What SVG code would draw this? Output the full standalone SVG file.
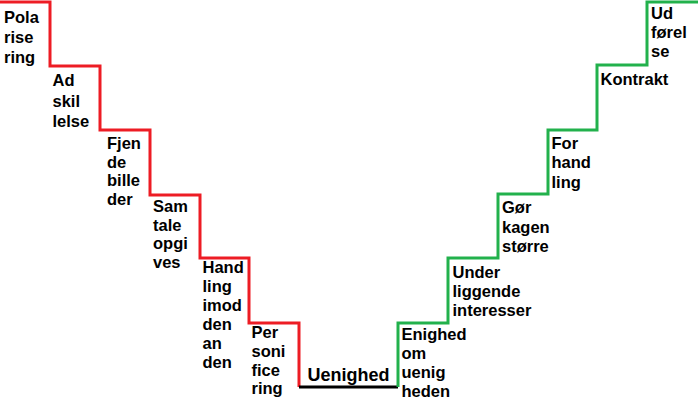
<svg xmlns="http://www.w3.org/2000/svg" width="698" height="400" viewBox="0 0 698 400">
<style>
  .bg { fill: #ffffff; }
  .red { fill: none; stroke: #ED1C24; stroke-width: 3; }
  .green { fill: none; stroke: #22B14C; stroke-width: 3; }
  .black { fill: none; stroke: #000000; stroke-width: 3; }
  .lbl { font-family: "Liberation Sans", Arial, sans-serif; font-weight: bold; font-size: 16.5px; fill: #000000; }
  .big { font-size: 18px; }
</style>
<rect class="bg" x="0" y="0" width="698" height="400"/>
<g id="connectors">
  <path class="red" d="M0,2 H50 V66 H100 V130 H150 V195 H200 V258 H249 V323 H299 V387"/>
  <path class="black" d="M299,387 H398"/>
  <path class="green" d="M398,387 V323 H448 V258 H498 V194 H548 V130 H597 V65 H647 V2 H698"/>
</g>
<g id="polarisering">
  <text class="lbl"><tspan x="4" y="22.7">Pola</tspan><tspan x="4" y="42.7">rise</tspan><tspan x="4" y="63">ring</tspan></text>
</g>
<g id="adskillelse">
  <text class="lbl"><tspan x="52.5" y="86">Ad</tspan><tspan x="52.5" y="106.5">skil</tspan><tspan x="52.5" y="127">lelse</tspan></text>
</g>
<g id="fjendebilleder">
  <text class="lbl"><tspan x="107" y="149">Fjen</tspan><tspan x="107" y="167.5">de</tspan><tspan x="107" y="186.3">bille</tspan><tspan x="107" y="205">der</tspan></text>
</g>
<g id="samtale">
  <text class="lbl"><tspan x="153" y="212.3">Sam</tspan><tspan x="153" y="230.7">tale</tspan><tspan x="153" y="249.3">opgi</tspan><tspan x="153" y="268.3">ves</tspan></text>
</g>
<g id="handling">
  <text class="lbl"><tspan x="202.5" y="273.3">Hand</tspan><tspan x="202.5" y="291.7">ling</tspan><tspan x="202.5" y="311">imod</tspan><tspan x="202.5" y="330">den</tspan><tspan x="202.5" y="349">an</tspan><tspan x="202.5" y="368.3">den</tspan></text>
</g>
<g id="personificering">
  <text class="lbl"><tspan x="251.5" y="338.3">Per</tspan><tspan x="251.5" y="356.7">soni</tspan><tspan x="251.5" y="375.7">fice</tspan><tspan x="251.5" y="394.3">ring</tspan></text>
</g>
<g id="uenighed">
  <text class="lbl big" x="348.5" y="381" text-anchor="middle">Uenighed</text>
</g>
<g id="enighed">
  <text class="lbl"><tspan x="401.5" y="340">Enighed</tspan><tspan x="401.5" y="359">om</tspan><tspan x="401.5" y="378.3">uenig</tspan><tspan x="401.5" y="396.7">heden</tspan></text>
</g>
<g id="underliggende">
  <text class="lbl"><tspan x="452.5" y="277.7">Under</tspan><tspan x="452.5" y="296.7">liggende</tspan><tspan x="452.5" y="315.7">interesser</tspan></text>
</g>
<g id="goerkagen">
  <text class="lbl"><tspan x="502" y="213.3">Gør</tspan><tspan x="502" y="232.7">kagen</tspan><tspan x="502" y="251.7">større</tspan></text>
</g>
<g id="forhandling">
  <text class="lbl"><tspan x="551.5" y="149">For</tspan><tspan x="551.5" y="168.3">hand</tspan><tspan x="551.5" y="187.7">ling</tspan></text>
</g>
<g id="kontrakt">
  <text class="lbl" x="600.5" y="85">Kontrakt</text>
</g>
<g id="udfoerelse">
  <text class="lbl"><tspan x="651" y="19">Ud</tspan><tspan x="651" y="38.3">førel</tspan><tspan x="651" y="56.7">se</tspan></text>
</g>
</svg>
